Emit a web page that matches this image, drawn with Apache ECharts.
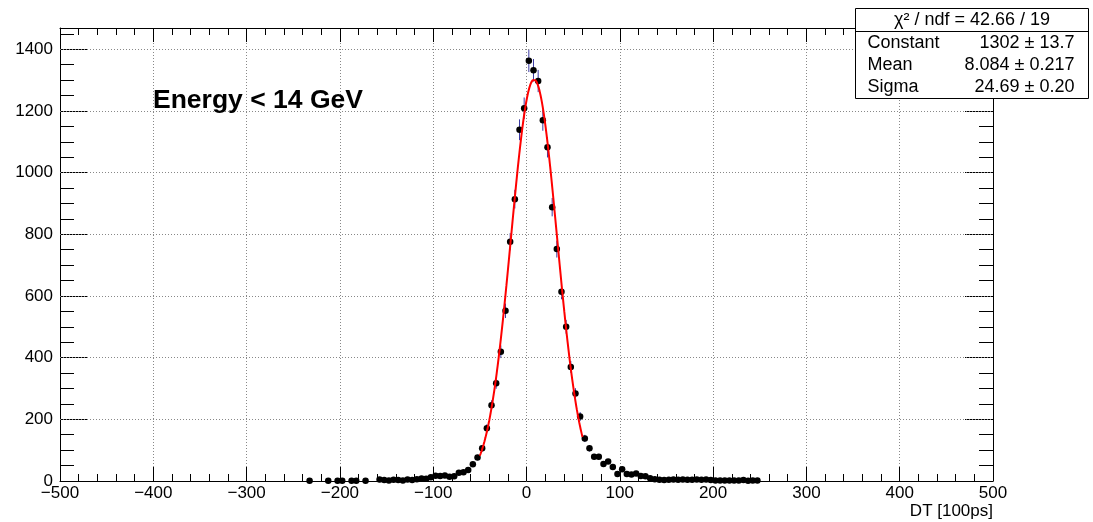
<!DOCTYPE html>
<html>
<head>
<meta charset="utf-8">
<title>DT distribution</title>
<script src="https://cdn.jsdelivr.net/npm/echarts@6/dist/echarts.min.js"></script>
<style>
  html, body { margin: 0; padding: 0; background: #fff; }
  #main { width: 1093px; height: 522px; }
</style>
</head>
<body>
<div id="main"></div>
<script>
// bin centres (5 wide bins), only the non-empty ones
var binCenters = [
  -232.5, -212.5, -202.5, -197.5, -187.5, -182.5, -172.5,
  -157.5, -152.5, -147.5, -142.5, -137.5, -132.5, -127.5, -122.5, -117.5, -112.5,
  -107.5, -102.5, -97.5, -92.5, -87.5, -82.5, -77.5, -72.5, -67.5, -62.5,
  -57.5, -52.5, -47.5, -42.5, -37.5, -32.5, -27.5, -22.5, -17.5, -12.5,
  -7.5, -2.5, 2.5, 7.5, 12.5, 17.5, 22.5, 27.5, 32.5, 37.5,
  42.5, 47.5, 52.5, 57.5, 62.5, 67.5, 72.5, 77.5, 82.5, 87.5,
  92.5, 97.5, 102.5, 107.5, 112.5, 117.5, 122.5, 127.5, 132.5, 137.5,
  142.5, 147.5, 152.5, 157.5, 162.5, 167.5, 172.5, 177.5, 182.5, 187.5,
  192.5, 197.5, 202.5, 207.5, 212.5, 217.5, 222.5, 227.5, 232.5, 237.5,
  242.5, 247.5
];
var counts = [
  1, 1, 1, 1, 1, 1, 1,
  5, 3, 2, 4, 3, 2, 5, 3, 6, 8,
  7, 12, 17, 16, 18, 14, 15, 27, 28, 36,
  54, 76, 106, 171, 246, 317, 419, 552, 776, 914,
  1139, 1209, 1363, 1332, 1297, 1170, 1082, 888, 752, 614,
  500, 370, 284, 209, 138, 106, 79, 79, 55, 63,
  45, 23, 38, 23, 21, 24, 16, 15, 9, 6,
  4, 3, 4, 5, 4, 5, 4, 4, 5, 4,
  5, 3, 2, 2, 2, 2, 2, 2, 3, 1,
  2, 2
];

// gaussian fit shown in the stats box
var fitConstant = 1302;
var fitMean = 8.084;
var fitSigma = 24.69;
var fitRange = [-50, 60];

var yTicks = [0, 200, 400, 600, 800, 1000, 1200, 1400];
var yMinorTicks = [50, 100, 150, 250, 300, 350, 450, 500, 550, 650, 700, 750,
  850, 900, 950, 1050, 1100, 1150, 1250, 1300, 1350, 1450];
var yMax = 1469;

var FONT = '"Liberation Sans", Arial, Helvetica, sans-serif';

var points = binCenters.map(function (x, i) { return [x, counts[i]]; });

var fitCurve = [];
for (var x = fitRange[0]; x <= fitRange[1] + 1e-9; x += 0.5) {
  var d = (x - fitMean) / fitSigma;
  fitCurve.push([x, fitConstant * Math.exp(-0.5 * d * d)]);
}

function minus(v) {
  return v < 0 ? '\u2212' + (-v) : String(v);
}

var myChart = echarts.init(document.getElementById('main'));

var gridLine = { show: true, lineStyle: { color: '#888', type: [1, 2], width: 1 } };
var frameLine = { show: true, onZero: false, lineStyle: { color: '#000', width: 1 } };
var noLine = { show: false, onZero: false };

var option = {
  animation: false,
  backgroundColor: '#fff',
  textStyle: { fontFamily: FONT },
  grid: { left: 60, right: 100, top: 28, bottom: 41, containLabel: false },
  xAxis: [
    {
      type: 'value', min: -500, max: 500, interval: 100, position: 'bottom',
      axisLine: frameLine,
      axisTick: { show: true, inside: true, length: 14, lineStyle: { color: '#000' } },
      minorTick: { show: true, splitNumber: 5, length: 7, lineStyle: { color: '#000' } },
      axisLabel: { color: '#000', fontSize: 17, margin: 4, fontFamily: FONT, formatter: minus,
        showMinLabel: true, showMaxLabel: true },
      splitLine: gridLine
    },
    {
      type: 'value', min: -500, max: 500, interval: 100, position: 'top',
      axisLine: frameLine,
      axisTick: { show: true, inside: true, length: 14, lineStyle: { color: '#000' } },
      minorTick: { show: true, splitNumber: 5, length: 7, lineStyle: { color: '#000' } },
      axisLabel: { show: false },
      splitLine: { show: false }
    }
  ],
  yAxis: [
    {
      type: 'value', min: 0, max: yMax, position: 'left',
      axisLine: frameLine,
      axisTick: { show: true, inside: true, length: 28, customValues: yTicks, lineStyle: { color: '#000' } },
      axisLabel: { color: '#000', fontSize: 17, margin: 7, fontFamily: FONT, customValues: yTicks,
        formatter: function (v) { return String(v); } },
      splitLine: { show: false }
    },
    {
      type: 'value', min: 0, max: yMax, position: 'left',
      axisLine: noLine,
      axisTick: { show: true, inside: true, length: 14, customValues: yMinorTicks, lineStyle: { color: '#000' } },
      axisLabel: { show: false },
      splitLine: { show: false }
    },
    {
      type: 'value', min: 0, max: yMax, position: 'right',
      axisLine: frameLine,
      axisTick: { show: true, inside: true, length: 28, customValues: yTicks, lineStyle: { color: '#000' } },
      axisLabel: { show: false },
      splitLine: { show: false }
    },
    {
      type: 'value', min: 0, max: yMax, position: 'right',
      axisLine: noLine,
      axisTick: { show: true, inside: true, length: 14, customValues: yMinorTicks, lineStyle: { color: '#000' } },
      axisLabel: { show: false },
      splitLine: { show: false }
    }
  ],
  series: [
    {
      // horizontal dotted grid at the major y values
      type: 'line',
      xAxisIndex: 0, yAxisIndex: 0,
      data: [],
      silent: true,
      markLine: {
        silent: true, symbol: 'none', label: { show: false },
        lineStyle: { color: '#888', type: [1, 2], width: 1 },
        data: yTicks.slice(1).map(function (v) { return { yAxis: v }; })
      }
    },
    {
      // error bars
      type: 'custom',
      xAxisIndex: 0, yAxisIndex: 0,
      z: 3,
      data: points,
      encode: { x: 0, y: 1 },
      renderItem: function (params, api) {
        var xv = api.value(0), v = api.value(1);
        var e = Math.sqrt(v);
        var p1 = api.coord([xv, v - e]);
        var p2 = api.coord([xv, v + e]);
        return {
          type: 'line',
          shape: { x1: p1[0], y1: p1[1], x2: p2[0], y2: p2[1] },
          style: { stroke: '#3b3ba3', lineWidth: 1 }
        };
      }
    },
    {
      type: 'scatter',
      xAxisIndex: 0, yAxisIndex: 0,
      z: 4,
      symbol: 'circle',
      symbolSize: 6.5,
      itemStyle: { color: '#000', opacity: 1 },
      data: points
    },
    {
      type: 'line',
      xAxisIndex: 0, yAxisIndex: 0,
      z: 5,
      showSymbol: false,
      smooth: false,
      lineStyle: { color: '#ff0000', width: 2 },
      data: fitCurve
    }
  ],
  graphic: [
    {
      type: 'text', left: 153, top: 87, z: 10,
      style: { text: 'Energy < 14 GeV', font: 'bold 26.5px ' + FONT, fill: '#000' }
    },
    {
      type: 'text', right: 100, top: 503, z: 10,
      style: { text: 'DT [100ps]', font: '17px ' + FONT, fill: '#000' }
    },
    {
      type: 'group', left: 853, top: 8, zlevel: 1,
      children: [
        { type: 'rect', zlevel: 1, shape: { x: 0, y: 0, width: 233, height: 90 },
          style: { fill: '#fff', stroke: '#000', lineWidth: 1 } },
        { type: 'line', zlevel: 1, z: 2, shape: { x1: 0, y1: 23, x2: 233, y2: 23 },
          style: { stroke: '#000', lineWidth: 1 } },
        { type: 'text', zlevel: 1, z: 2, x: 116.5, y: 11.5,
          style: { text: '\u03c7\u00b2 / ndf = 42.66 / 19', font: '18px ' + FONT, fill: '#000',
            align: 'center', verticalAlign: 'middle' } },
        { type: 'text', zlevel: 1, z: 2, x: 12, y: 35,
          style: { text: 'Constant', font: '18px ' + FONT, fill: '#000', verticalAlign: 'middle' } },
        { type: 'text', zlevel: 1, z: 2, x: 219, y: 35,
          style: { text: '1302 \u00b1 13.7', font: '18px ' + FONT, fill: '#000', align: 'right', verticalAlign: 'middle' } },
        { type: 'text', zlevel: 1, z: 2, x: 12, y: 57,
          style: { text: 'Mean', font: '18px ' + FONT, fill: '#000', verticalAlign: 'middle' } },
        { type: 'text', zlevel: 1, z: 2, x: 219, y: 57,
          style: { text: '8.084 \u00b1 0.217', font: '18px ' + FONT, fill: '#000', align: 'right', verticalAlign: 'middle' } },
        { type: 'text', zlevel: 1, z: 2, x: 12, y: 79,
          style: { text: 'Sigma', font: '18px ' + FONT, fill: '#000', verticalAlign: 'middle' } },
        { type: 'text', zlevel: 1, z: 2, x: 219, y: 79,
          style: { text: '24.69 \u00b1 0.20', font: '18px ' + FONT, fill: '#000', align: 'right', verticalAlign: 'middle' } }
      ]
    }
  ]
};

myChart.setOption(option);
</script>
</body>
</html>
